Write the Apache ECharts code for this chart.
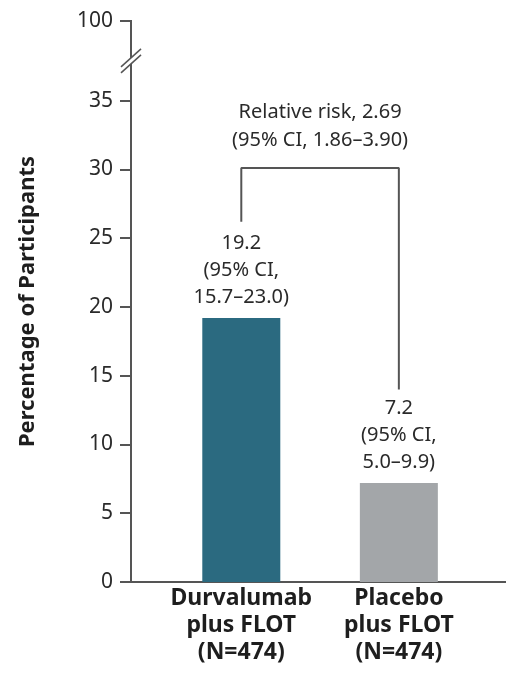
<!DOCTYPE html>
<html>
<head>
<meta charset="utf-8">
<script src="https://cdn.jsdelivr.net/npm/echarts@6/dist/echarts.min.js"></script>
<style>
  html, body { margin: 0; padding: 0; background: #fff; }
  #chart { width: 506px; height: 689px; }
</style>
</head>
<body>
<div id="chart"></div>
<script>
// Groups and their positions on the horizontal axis
const categories = ['Durvalumab\nplus FLOT\n(N=474)', 'Placebo\nplus FLOT\n(N=474)'];
const categoryPositions = [1, 2];
// Percentage of participants per group, with 95% confidence intervals
const percentages = [19.2, 7.2];
const ciLabels = ['15.7–23.0', '5.0–9.9'];
// Relative risk between the groups
const relativeRisk = 2.69;
const relativeRiskCI = '1.86–3.90';
// Vertical axis: broken between 35 and 100
const yBreakStart = 35;
const yBreakEnd = 100;

const barColors = ['#2b6a80', '#a3a6a9'];
const textColor = '#2a2a2a';
const axisColor = '#555';
const FONT = 'Noto Sans';

// Bracket linking the two bars (heights in axis units)
const bracketTop = 30.1;
const bracketLegs = [26.2, 14.0];

const chart = echarts.init(document.getElementById('chart'));

const option = {
  animation: false,
  backgroundColor: '#fff',
  textStyle: { fontFamily: FONT },
  grid: { left: 131, right: 0, top: 21, bottom: 107 },
  xAxis: {
    type: 'value',
    min: 0.3,
    max: 2.68,
    splitLine: { show: false },
    axisTick: { show: false },
    axisLine: { show: true, lineStyle: { color: axisColor, width: 2 } },
    axisLabel: {
      customValues: categoryPositions,
      formatter: v => categories[categoryPositions.indexOf(v)] || '',
      color: '#1e1e1e',
      fontFamily: FONT,
      fontWeight: 'bold',
      fontSize: 23,
      lineHeight: 27,
      margin: 3
    }
  },
  yAxis: {
    type: 'value',
    min: 0,
    max: yBreakEnd,
    interval: 5,
    breaks: [{ start: yBreakStart, end: yBreakEnd, gap: '14.2%' }],
    breakArea: { show: false },
    name: 'Percentage of Participants',
    nameLocation: 'middle',
    nameRotate: 90,
    nameGap: 92,
    nameTextStyle: { color: '#1e1e1e', fontFamily: FONT, fontWeight: 'bold', fontSize: 22 },
    splitLine: { show: false },
    axisLine: { show: true, lineStyle: { color: axisColor, width: 2 } },
    axisTick: { show: true, length: 11, lineStyle: { color: axisColor, width: 2 } },
    axisLabel: { color: textColor, fontFamily: FONT, fontSize: 21, margin: 18 }
  },
  series: [
    {
      type: 'bar',
      barWidth: 78,
      data: percentages.map((v, i) => ({
        value: [categoryPositions[i], v],
        itemStyle: { color: barColors[i] },
        label: {
          show: true,
          position: 'top',
          distance: 7,
          formatter: `${v.toFixed(1)}\n(95% CI,\n${ciLabels[i]})`,
          color: textColor,
          fontFamily: FONT,
          fontSize: 20,
          lineHeight: 27
        }
      }))
    },
    {
      type: 'line',
      symbol: 'circle',
      symbolSize: 0,
      showSymbol: true,
      silent: true,
      lineStyle: { color: axisColor, width: 2 },
      label: { show: false },
      data: [
        [categoryPositions[0], bracketLegs[0]],
        [categoryPositions[0], bracketTop],
        {
          value: [(categoryPositions[0] + categoryPositions[1]) / 2, bracketTop],
          label: {
            show: true,
            position: 'top',
            distance: 14,
            formatter: `Relative risk, ${relativeRisk.toFixed(2)}\n(95% CI, ${relativeRiskCI})`,
            color: textColor,
            fontFamily: FONT,
            fontSize: 20,
            lineHeight: 28
          }
        },
        [categoryPositions[1], bracketTop],
        [categoryPositions[1], bracketLegs[1]]
      ]
    }
  ]
};

chart.setOption(option);

// Axis line through the broken span, crossed by a double-slash marker
const axisX = chart.convertToPixel({ xAxisIndex: 0 }, 0.3);
const yLow = chart.convertToPixel({ yAxisIndex: 0 }, yBreakStart);
const yHigh = chart.convertToPixel({ yAxisIndex: 0 }, yBreakEnd);
const midY = (yLow + yHigh) / 2;
const dx = 10, dy = 9, sep = 3;
chart.setOption({
  graphic: [
    {
      type: 'line', z: 99,
      shape: { x1: axisX, y1: yHigh - 1, x2: axisX, y2: yLow + 1 },
      style: { stroke: axisColor, lineWidth: 2 }
    },
    {
      type: 'polygon',
      z: 100,
      shape: { points: [
        [axisX - dx, midY + dy + sep], [axisX + dx, midY - dy + sep],
        [axisX + dx, midY - dy - sep], [axisX - dx, midY + dy - sep]
      ] },
      style: { fill: '#fff' }
    },
    {
      type: 'line', z: 101,
      shape: { x1: axisX - dx, y1: midY + dy + sep, x2: axisX + dx, y2: midY - dy + sep },
      style: { stroke: axisColor, lineWidth: 1.5 }
    },
    {
      type: 'line', z: 101,
      shape: { x1: axisX - dx, y1: midY + dy - sep, x2: axisX + dx, y2: midY - dy - sep },
      style: { stroke: axisColor, lineWidth: 1.5 }
    }
  ]
});
</script>
</body>
</html>
